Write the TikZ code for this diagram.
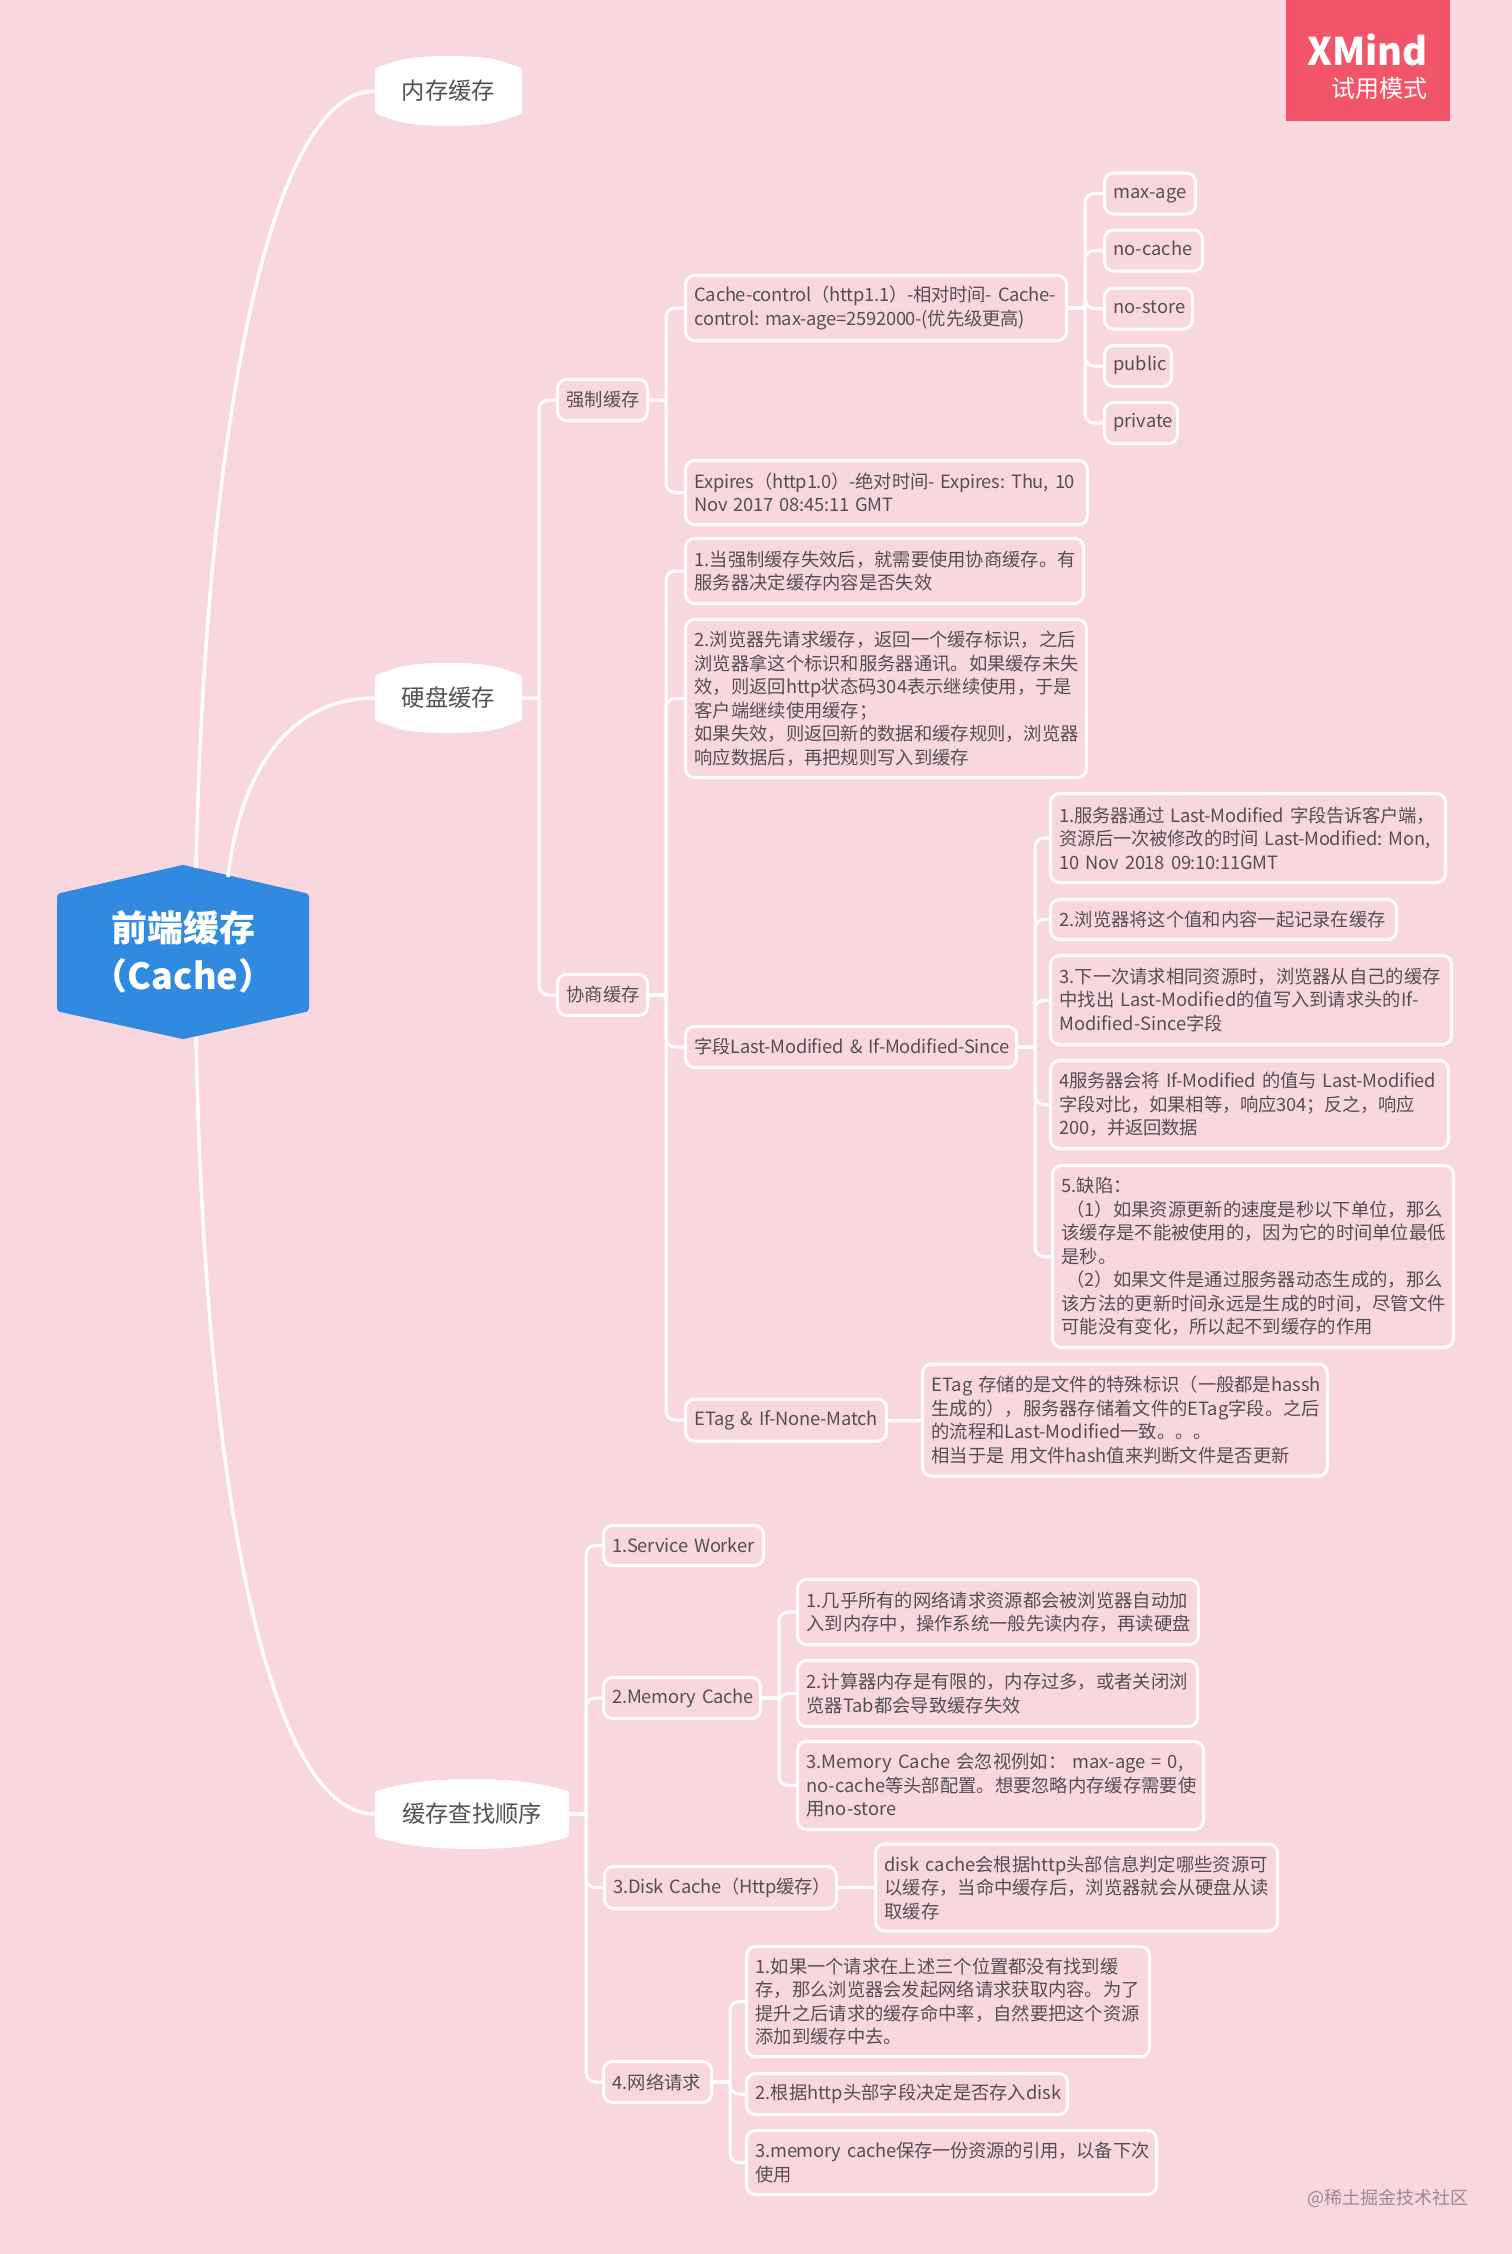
\documentclass[tikz,border=0pt]{standalone}
\usepackage{fontspec}
\setmainfont{Noto Sans CJK SC}

\definecolor{pinkpage}{HTML}{F9D7DF}
\definecolor{rootblue}{HTML}{2F8AE0}
\definecolor{trialred}{HTML}{F2556A}
\definecolor{inkgrey}{HTML}{545052}
\definecolor{markgrey}{HTML}{9C8A93}

\newcommand{\leaffont}{\fontsize{18.3}{23.5}\selectfont\exhyphenpenalty=10000\relax\hyphenpenalty=10000\relax}
\newcommand{\tightfont}{\leaffont\addfontfeature{LetterSpace=-1.3}}

\tikzset{
  leaf/.style 2 args={draw=white, line width=3pt, rounded corners=9pt, anchor=west, align=left,
    text=inkgrey, font=\leaffont, inner xsep=9pt, inner ysep=0pt, text width=#1pt-21pt, minimum height=#2pt-3pt},
  tight/.style={font=\tightfont},
  hubtext/.style={text=inkgrey, font=\fontsize{23.3}{28}\selectfont, inner sep=0pt},
  link/.style={white, line width=3pt, rounded corners=9pt,
    to path={(\tikztostart.east) -- ++(17,0) ++(0,0) |- (\tikztotarget.west)}},
  plainlink/.style={white, line width=3pt},
  bough/.style={white, line width=3.5pt}
}

\newcommand{\hubnode}[5]{
  \filldraw[white, line width=5pt, line join=round] (#2+2.5,#4-21)
    .. controls (#2+20,#4-26) and (#2*0.5+#3*0.5-50,#4-32.5) .. (#2*0.5+#3*0.5,#4-32.5)
    .. controls (#2*0.5+#3*0.5+50,#4-32.5) and (#3-20,#4-26) .. (#3-2.5,#4-21)
    -- (#3-2.5,#4+21)
    .. controls (#3-20,#4+26) and (#2*0.5+#3*0.5+50,#4+32.5) .. (#2*0.5+#3*0.5,#4+32.5)
    .. controls (#2*0.5+#3*0.5-50,#4+32.5) and (#2+20,#4+26) .. (#2+2.5,#4+21) -- cycle;
  \node[hubtext, minimum width=#3pt-#2pt, minimum height=66pt] (#1) at (#2*0.5+#3*0.5,#4) {#5};
}

\begin{document}
\begin{tikzpicture}[x=1pt,y=-1pt]

\useasboundingbox (0,0) rectangle (1512,2254);
\fill[pinkpage] (0,0) rectangle (1512,2254);

\fill[trialred] (1286,0) rectangle (1450,121);
\node[anchor=east, text=white, inner sep=0pt, font=\fontsize{38}{40}\selectfont\bfseries] (trialname) at (1428,50) {XMind};
\node[anchor=east, text=white, inner sep=0pt, font=\fontsize{24}{28}\selectfont] (trialmode) at (1428,88) {试用模式};

\filldraw[rootblue, line width=8pt, line join=round] (183,869) -- (305,897) -- (305,1008) -- (183,1035) -- (61,1008) -- (61,897) -- cycle;
\node[text=white, align=center, inner sep=0pt, font=\fontsize{36}{48}\selectfont\bfseries] (root) at (183,952) {前端缓存\\\hspace*{-7pt}（Cache）\hspace*{-7pt}};
\coordinate (rootA) at (196,868);
\coordinate (rootB) at (228,877);
\coordinate (rootC) at (196,1037);

\hubnode{memhub}{375}{522}{91}{内存缓存}
\hubnode{diskhub}{375}{522}{698}{硬盘缓存}
\hubnode{orderhub}{375}{569}{1814}{缓存查找顺序}

\draw[bough] (rootA) .. controls (205,450) and (265,91) .. (memhub.west);
\draw[bough] (rootB) .. controls (240,770) and (290,698) .. (diskhub.west);
\draw[bough] (rootC) .. controls (205,1500) and (270,1814) .. (orderhub.west);

\node[leaf={93}{44}] (force) at (556,400) {强制缓存};
\node[leaf={93}{44}] (nego) at (556,995) {协商缓存};
\draw[link] (diskhub) to (force);
\draw[link] (diskhub) to (nego);

\node[leaf={384}{68}, tight] (ccontrol) at (684,308) {Cache-control（http1.1）-相对时间-~Cache-\\control:~max-age=2592000-(优先级更高)};
\node[leaf={405}{67}, tight] (expires) at (684,492.5) {Expires（http1.0）-绝对时间-~Expires:~Thu,~10\\Nov~2017~08:45:11~GMT};
\draw[link] (force) to (ccontrol);
\draw[link] (force) to (expires);

\foreach \tagname/\tagtext/\tagwidth/\tagy in {maxage/max-age/94/193.5, nocache/no-cache/101/250.5, nostore/no-store/91/308.5, public/public/70/366, private/private/76/423} {
  \node[leaf={\tagwidth}{44}] (\tagname) at (1103,\tagy) {\strut\tagtext};
  \draw[link] (ccontrol) to (\tagname);
}

\node[leaf={401}{68}] (nego1) at (684,571) {1.当强制缓存失效后，就需要使用协商缓存。有\\服务器决定缓存内容是否失效};
\node[leaf={404}{161}] (nego2) at (684,698.5) {2.浏览器先请求缓存，返回一个缓存标识，之后\\浏览器拿这个标识和服务器通讯。如果缓存未失\\效，则返回http状态码304表示继续使用，于是\\客户端继续使用缓存；\\如果失效，则返回新的数据和缓存规则，浏览器\\响应数据后，再把规则写入到缓存};
\node[leaf={334}{44}, tight] (lastmod) at (684,1047) {字段Last-Modified~\&~If-Modified-Since};
\node[leaf={204}{45}, tight] (etag) at (684,1420) {ETag~\&~If-None-Match};
\foreach \kid in {nego1,nego2,lastmod,etag} {
  \draw[link] (nego) to (\kid);
}

\node[leaf={398}{92}, tight] (last1) at (1049,838) {1.服务器通过~Last-Modified~字段告诉客户端，\\资源后一次被修改的时间~Last-Modified:~Mon,\\10~Nov~2018~09:10:11GMT};
\node[leaf={349}{43}] (last2) at (1049,919.5) {2.浏览器将这个值和内容一起记录在缓存};
\node[leaf={404}{92}] (last3) at (1049,1000) {3.下一次请求相同资源时，浏览器从自己的缓存\\中找出~Last-Modified的值写入到请求头的If-\\Modified-Since字段};
\node[leaf={401}{91}, tight] (last4) at (1049,1104.5) {4服务器会将~If-Modified~的值与~Last-Modified\\字段对比，如果相等，响应304；反之，响应\\200，并返回数据};
\node[leaf={404}{185}] (last5) at (1051,1256.5) {5.缺陷：\\\hspace*{5pt}（1）如果资源更新的速度是秒以下单位，那么\\该缓存是不能被使用的，因为它的时间单位最低\\是秒。\\\hspace*{5pt}（2）如果文件是通过服务器动态生成的，那么\\该方法的更新时间永远是生成的时间，尽管文件\\可能没有变化，所以起不到缓存的作用};
\foreach \kid in {last1,last2,last3,last4,last5} {
  \draw[link] (lastmod) to (\kid);
}

\node[leaf={408}{115}] (etagnote) at (921,1420) {ETag~存储的是文件的特殊标识（一般都是hassh\\生成的），服务器存储着文件的ETag字段。之后\\的流程和Last-Modified一致。。。\\相当于是~用文件hash值来判断文件是否更新};
\draw[plainlink] (etag) -- (etagnote);

\node[leaf={163}{43}, tight] (worker) at (602,1545.5) {1.Service~Worker};
\node[leaf={160}{44}, tight] (memcache) at (602,1698) {2.Memory~Cache};
\node[leaf={235}{45}, tight] (diskcache) at (603,1887.5) {3.Disk~Cache（Http缓存）};
\node[leaf={111}{44}] (network) at (602,2082) {4.网络请求};
\foreach \kid in {worker,memcache,diskcache,network} {
  \draw[link] (orderhub) to (\kid);
}

\node[leaf={404}{68}] (mem1) at (796,1612) {1.几乎所有的网络请求资源都会被浏览器自动加\\入到内存中，操作系统一般先读内存，再读硬盘};
\node[leaf={403}{69}] (mem2) at (796,1693.5) {2.计算器内存是有限的，内存过多，或者关闭浏\\览器Tab都会导致缓存失效};
\node[leaf={409}{91}] (mem3) at (796,1785.5) {3.Memory~Cache~会忽视例如：~max-age~=~0,\\no-cache等头部配置。想要忽略内存缓存需要使\\用no-store};
\foreach \kid in {mem1,mem2,mem3} {
  \draw[link] (memcache) to (\kid);
}

\node[leaf={405}{90}] (disknote) at (874,1887.5) {disk~cache会根据http头部信息判定哪些资源可\\以缓存，当命中缓存后，浏览器就会从硬盘从读\\取缓存};
\draw[plainlink] (diskcache) -- (disknote);

\node[leaf={406}{113}] (net1) at (745,2001.5) {1.如果一个请求在上述三个位置都没有找到缓\\存，那么浏览器会发起网络请求获取内容。为了\\提升之后请求的缓存命中率，自然要把这个资源\\添加到缓存中去。};
\node[leaf={324}{44}] (net2) at (745,2094) {2.根据http头部字段决定是否存入disk};
\node[leaf={413}{67}, tight] (net3) at (745,2162.5) {3.memory~cache保存一份资源的引用，以备下次\\使用};
\foreach \kid in {net1,net2,net3} {
  \draw[link] (network) to (\kid);
}

\node[text=markgrey, inner sep=0pt, font=\fontsize{18}{20}\selectfont] (mark) at (1388,2198) {@稀土掘金技术社区};

\end{tikzpicture}
\end{document}
